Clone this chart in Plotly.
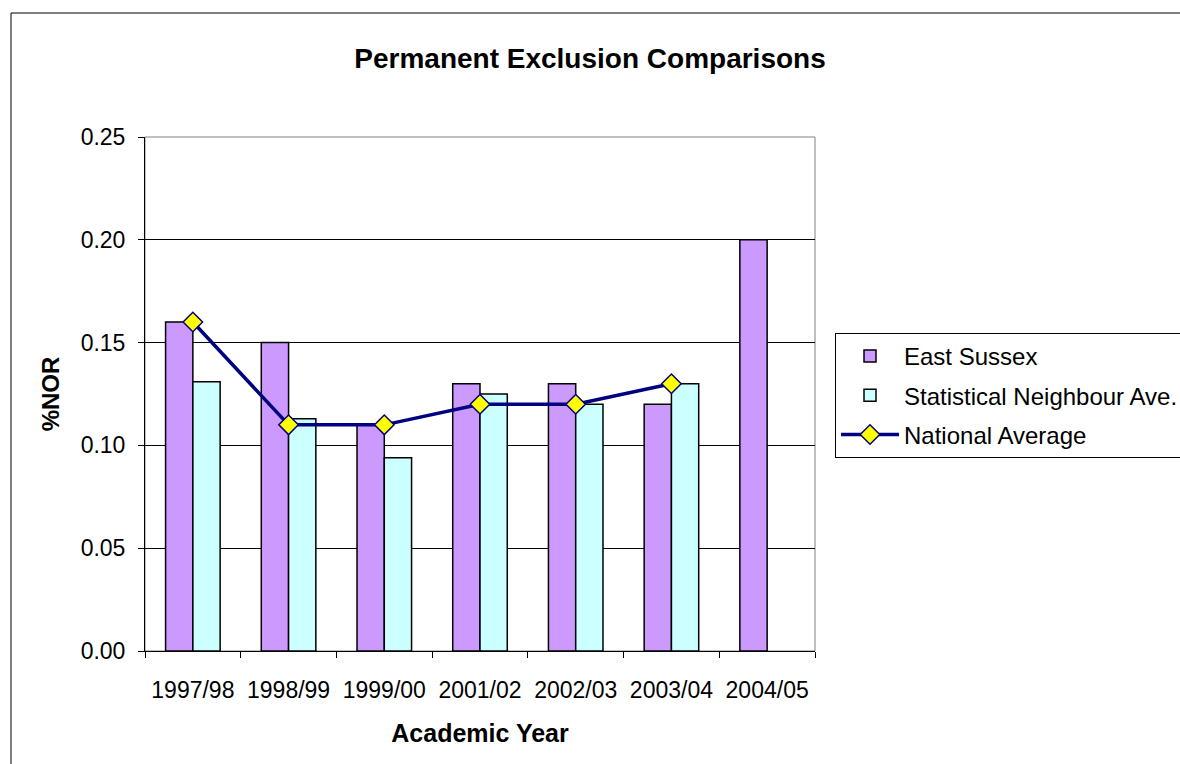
import plotly.graph_objects as go

years = ["1997/98", "1998/99", "1999/00", "2001/02", "2002/03", "2003/04", "2004/05"]
east_sussex = [0.16, 0.15, 0.11, 0.13, 0.13, 0.12, 0.20]
stat_neighbour = [0.131, 0.113, 0.094, 0.125, 0.120, 0.130, None]
national_avg = [0.16, 0.11, 0.11, 0.12, 0.12, 0.13, None]

W, H = 1180, 764
L, R, T, B = 145, 815, 137, 651
pw, ph = R - L, B - T

fig = go.Figure()
fig.add_trace(go.Bar(x=years, y=east_sussex, name="East Sussex", legendgroup="a",
                     marker=dict(color="#CC99FF", line=dict(color="black", width=1.5))))
fig.add_trace(go.Bar(x=years, y=stat_neighbour, name="Statistical Neighbour Ave.", legendgroup="b",
                     marker=dict(color="#CCFFFF", line=dict(color="black", width=1.5))))
fig.add_trace(go.Scatter(x=years, y=national_avg, name="National Average", mode="lines+markers",
                         legendgroup="c",
                         line=dict(color="#000080", width=3.5),
                         marker=dict(symbol="diamond", size=15, color="#FFFF00",
                                     line=dict(color="#000080", width=1.5))))

font = "Liberation Sans, Arial, sans-serif"
fig.update_layout(
    width=W, height=H,
    margin=dict(l=L, r=W - R, t=T, b=H - B, autoexpand=False),
    paper_bgcolor="white", plot_bgcolor="white",
    font=dict(family=font, size=23, color="black"),
    barmode="group", bargap=0.43, bargroupgap=0,
    showlegend=True,
    title=dict(text="<b>Permanent Exclusion Comparisons</b>", x=0.5, xanchor="center",
               y=1 - 58 / H, yanchor="middle", font=dict(size=28)),
    legend=dict(x=(835 - L) / pw, xanchor="left", y=(B - 333) / ph, yanchor="top",
                bordercolor="black", borderwidth=1, bgcolor="white",
                font=dict(size=24), tracegroupgap=5, itemwidth=58,
                traceorder="grouped"),
    xaxis=dict(type="category", showline=True, linecolor="black", linewidth=1,
               ticks="outside", tickson="boundaries", ticklen=6, tickcolor="black",
               showgrid=False, mirror=False, ticklabelstandoff=18,
               title=dict(text="<b>Academic Year</b>", font=dict(size=25), standoff=22)),
    yaxis=dict(range=[0, 0.25], dtick=0.05, tickformat=".2f", showline=True,
               linecolor="black", linewidth=1, ticks="outside", ticklen=6, tickcolor="black",
               showgrid=True, gridcolor="black", gridwidth=1, zeroline=False,
               ticklabelstandoff=8,
               title=dict(text="<b>%NOR</b>", font=dict(size=24), standoff=14)),
    shapes=[
        dict(type="rect", xref="paper", yref="paper", x0=0, x1=1, y0=0, y1=1,
             line=dict(color="#808080", width=1), layer="below"),
        dict(type="line", xref="paper", yref="paper",
             x0=(11 - L) / pw, x1=(W + 20 - L) / pw, y0=(B - 13) / ph, y1=(B - 13) / ph,
             line=dict(color="black", width=1)),
        dict(type="line", xref="paper", yref="paper",
             x0=(11 - L) / pw, x1=(11 - L) / pw, y0=(B - 13) / ph, y1=(B - H - 20) / ph,
             line=dict(color="black", width=1)),
    ],
)

fig.write_html("out.html")
